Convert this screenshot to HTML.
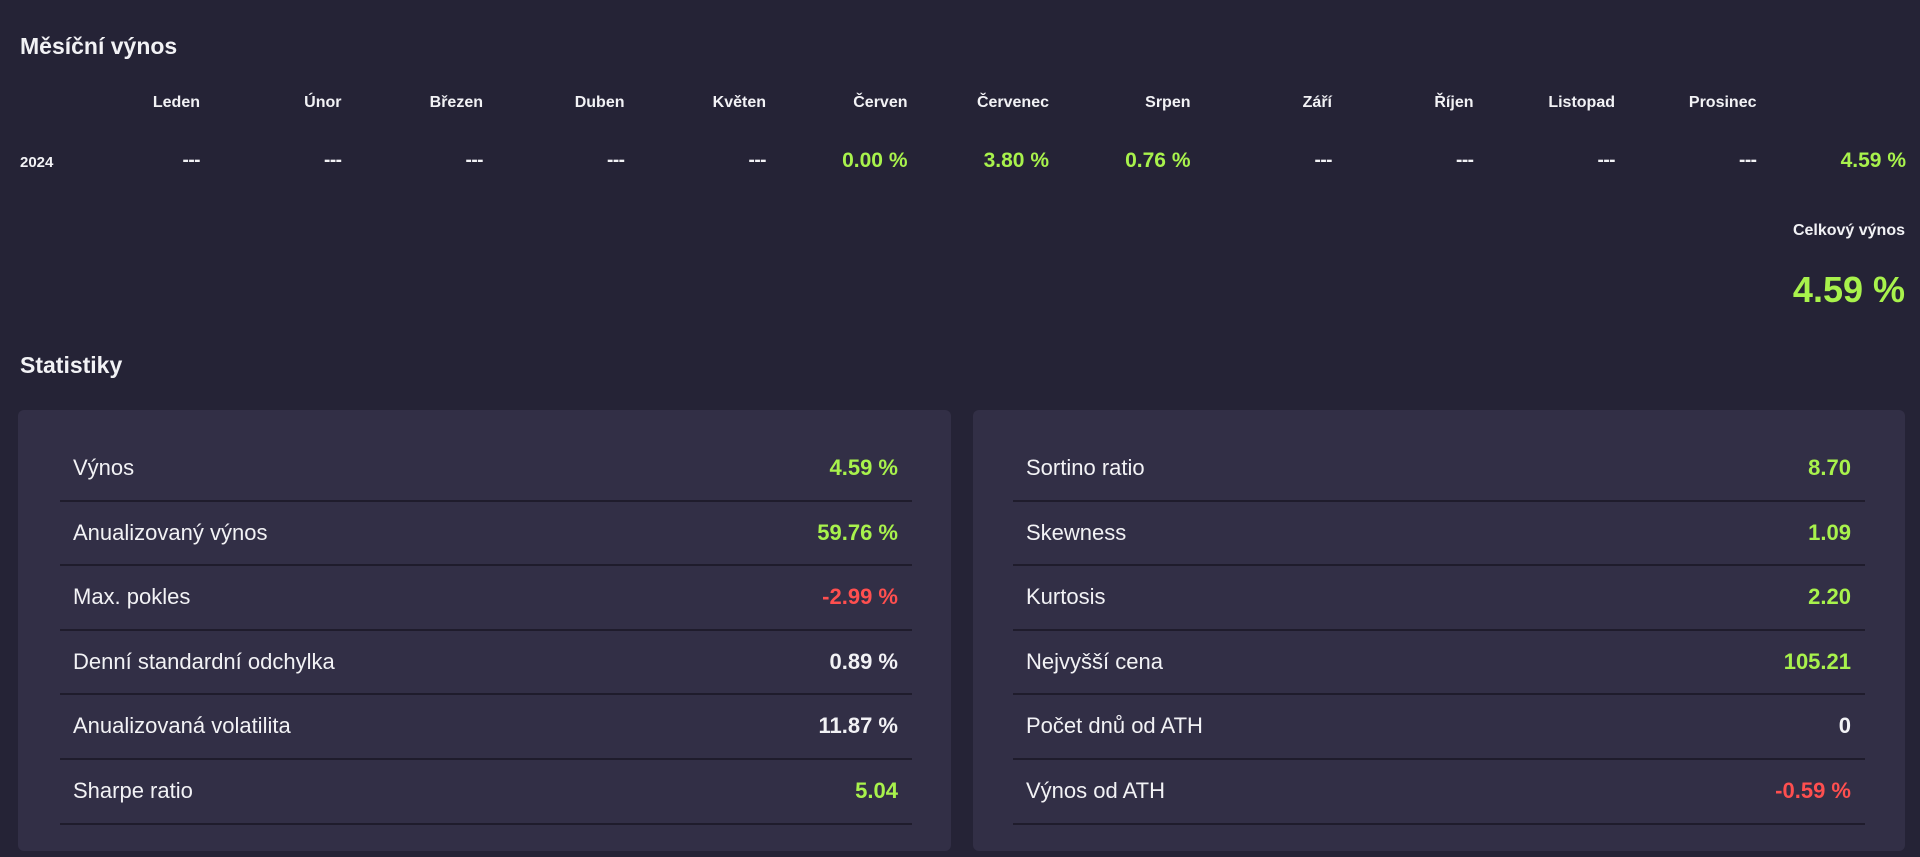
<!DOCTYPE html>
<html><head><meta charset="utf-8"><style>
body{margin:0;width:1920px;height:857px;background:#252336;font-family:"Liberation Sans",sans-serif;color:#f2f2f5;position:relative;overflow:hidden}
.a{position:absolute;white-space:nowrap}
.h{font-weight:bold;font-size:23px;left:20px}
.m{font-weight:bold;font-size:16px;top:94px;transform:translateX(-100%)}
.v{font-size:21px;top:149px;font-weight:bold;transform:translateX(-100%)}
.g{color:#a8f24c}.r{color:#ff4f4f}
.panel{position:absolute;top:410px;height:441px;background:#322f46;border-radius:6px}
.row{position:absolute;height:64.6px;border-bottom:2px solid #1f1c2c;box-sizing:border-box}
.row .l{position:absolute;left:13px;top:18px;font-size:22px}
.row .n{position:absolute;right:14px;top:18px;font-size:22px;font-weight:bold}
</style></head><body>
<div class="a h" style="top:33px">Měsíční výnos</div>
<div id="months"></div>
<div class="a" style="left:20px;top:154px;font-size:15px;font-weight:bold">2024</div>
<div class="a" style="right:15px;top:222px;font-size:16px;font-weight:bold">Celkový výnos</div>
<div class="a g" style="right:15px;top:269px;font-size:36px;font-weight:bold">4.59 %</div>
<div class="a h" style="top:352px">Statistiky</div>
<div class="panel" style="left:18px;width:933px"></div>
<div class="panel" style="left:973px;width:932px"></div>
<script>
const months=["Leden","Únor","Březen","Duben","Květen","Červen","Červenec","Srpen","Září","Říjen","Listopad","Prosinec"];
const monthValues=["---","---","---","---","---","0.00 %","3.80 %","0.76 %","---","---","---","---","4.59 %"];
const leftLabels=["Výnos","Anualizovaný výnos","Max. pokles","Denní standardní odchylka","Anualizovaná volatilita","Sharpe ratio"];
const leftValues=["4.59 %","59.76 %","-2.99 %","0.89 %","11.87 %","5.04"];
const leftColors=["g","g","r","","","g"];
const rightLabels=["Sortino ratio","Skewness","Kurtosis","Nejvyšší cena","Počet dnů od ATH","Výnos od ATH"];
const rightValues=["8.70","1.09","2.20","105.21","0","-0.59 %"];
const rightColors=["g","g","g","g","","r"];
const mc=document.getElementById('months');
months.forEach((m,i)=>{const d=document.createElement('div');d.className='a m';d.style.left=(200+141.5*i)+'px';d.textContent=m;


mc.appendChild(d);});
monthValues.forEach((v,i)=>{const d=document.createElement('div');d.className='a v'+(v!=='---'?' g':'');
d.style.left=(i<12?200+141.5*i:1906)+'px';d.textContent=v;
if(v==='---'){d.style.fontSize='19px';d.style.top='150px';d.style.letterSpacing='-0.5px';}


mc.appendChild(d);});
function rows(labels,values,colors,x,w,side){labels.forEach((l,i)=>{const r=document.createElement('div');r.className='row';
r.style.left=x+'px';r.style.width=w+'px';r.style.top=(437+64.6*i)+'px';
r.innerHTML='<span class="l"></span><span class="n '+colors[i]+'"></span>';
r.children[0].textContent=l;r.children[1].textContent=values[i];


document.body.appendChild(r);});}
rows(leftLabels,leftValues,leftColors,60,852,'left');
rows(rightLabels,rightValues,rightColors,1013,852,'right');
</script>
</body></html>
